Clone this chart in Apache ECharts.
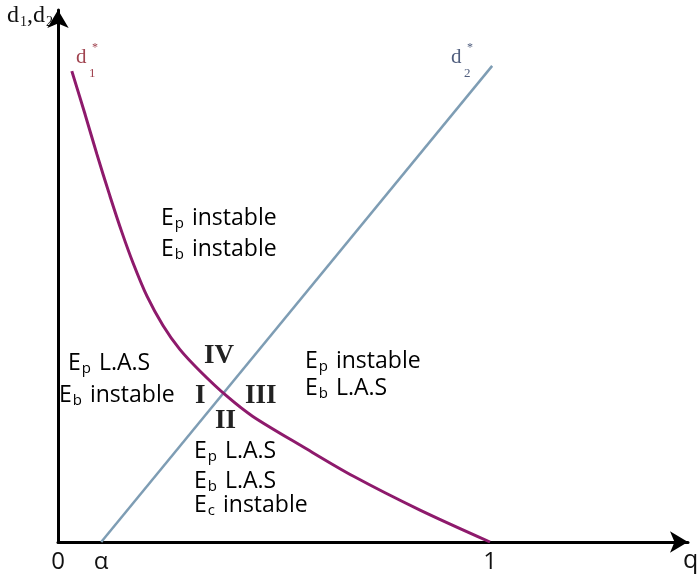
<!DOCTYPE html>
<html>
<head>
<meta charset="utf-8">
<script src="https://cdn.jsdelivr.net/npm/echarts@6/dist/echarts.min.js"></script>
<style>
  html, body { margin: 0; padding: 0; background: #fff; }
  #chart { width: 697px; height: 580px; }
</style>
</head>
<body>
<div id="chart"></div>
<script>
// d1*(q): decreasing curve, reaching 0 at q = 1
const d1Q = [0.032, 0.063, 0.090, 0.120, 0.148, 0.174, 0.206, 0.243, 0.282, 0.329, 0.391, 0.451, 0.567, 0.683, 0.838, 1.0];
const d1Val = [0.885, 0.803, 0.729, 0.651, 0.582, 0.524, 0.462, 0.407, 0.362, 0.321, 0.274, 0.236, 0.179, 0.124, 0.060, 0.0];

// d2*(q): straight line starting at q = alpha
const d2Q = [0.1, 1.005];
const d2Val = [0.0, 0.895];

// x-axis tick positions and their labels
const tickQ = [0, 0.1, 1];
const tickText = ['0', 'α', '1'];

const SANS = '"Open Sans", "Noto Sans", sans-serif';
const SERIF = '"Liberation Serif", "DejaVu Serif", serif';

const richE = {
  e: { fontSize: 23, fontFamily: SANS, color: '#111' },
  s: { fontSize: 15, fontFamily: SANS, color: '#111', padding: [10, 0, 0, 1] },
  w: { fontSize: 23, fontFamily: SANS, color: '#111', padding: [0, 0, 0, 8] }
};

function stateText(x, y, sub, word) {
  return {
    type: 'text', left: x, top: y,
    style: { text: '{e|E}{s|' + sub + '}{w|' + word + '}', rich: richE }
  };
}
function roman(x, y, t) {
  return {
    type: 'text', left: x, top: y,
    style: { text: t, fontFamily: SERIF, fontWeight: 'bold', fontSize: 27, fill: '#222' }
  };
}
function glyph(x, y, t, size, color) {
  return {
    type: 'text', left: x, top: y,
    style: { text: t, fontFamily: SERIF, fontSize: size, fill: color }
  };
}

const RED = '#a0434f';
const SLATE = '#4f5d7d';

const chart = echarts.init(document.getElementById('chart'), null, { renderer: 'canvas' });

chart.setOption({
  backgroundColor: '#fff',
  animation: false,
  grid: { left: 58, right: 9, top: 10, bottom: 38, containLabel: false, outerBoundsMode: 'none' },
  xAxis: {
    type: 'value', min: 0, max: 1.4583,
    name: 'q', nameLocation: 'end', nameGap: 0,
    nameTextStyle: { fontFamily: SANS, fontSize: 25, color: '#111', align: 'left', verticalAlign: 'top', padding: [6, 0, 0, -5] },
    axisLine: { show: true, symbol: ['none', 'arrow'], symbolSize: [16, 18], lineStyle: { color: '#000', width: 3 } },
    axisTick: { show: false },
    splitLine: { show: false },
    axisLabel: {
      customValues: tickQ,
      formatter: v => tickText[tickQ.indexOf(v)] ?? '',
      fontFamily: SANS, fontSize: 24, color: '#111', margin: 8
    }
  },
  yAxis: {
    type: 'value', min: 0, max: 1,
    name: '{d|d}{s|1}{d|,d}{s|2}', nameLocation: 'end', nameGap: 0,
    nameTextStyle: {
      align: 'right', verticalAlign: 'top', padding: [-8, 5, 0, 0],
      rich: {
        d: { fontFamily: SERIF, fontSize: 24, color: '#111' },
        s: { fontFamily: SERIF, fontSize: 14, color: '#111', padding: [13, 0, 0, 1] }
      }
    },
    axisLine: { show: true, symbol: ['none', 'arrow'], symbolSize: [16, 18], lineStyle: { color: '#000', width: 3 } },
    axisTick: { show: false },
    axisLabel: { show: false },
    splitLine: { show: false }
  },
  series: [
    {
      name: 'd2*', type: 'line', symbol: 'none', smooth: false,
      data: d2Q.map((q, i) => [q, d2Val[i]]),
      lineStyle: { color: '#7e9db4', width: 2.5 },
      z: 2
    },
    {
      name: 'd1*', type: 'line', symbol: 'none', smooth: 0.3,
      data: d1Q.map((q, i) => [q, d1Val[i]]),
      lineStyle: { color: '#8e1a6c', width: 3 },
      z: 3
    }
  ],
  graphic: [
    // curve labels d1*, d2*
    glyph(76, 47, 'd', 21, RED),
    glyph(92, 42, '*', 12, RED),
    glyph(89, 67, '1', 13, RED),
    glyph(451, 47, 'd', 21, SLATE),
    glyph(467, 42, '*', 12, SLATE),
    glyph(464, 67, '2', 13, SLATE),
    // region descriptions
    stateText(161, 207, 'p', 'instable'),
    stateText(161, 238, 'b', 'instable'),
    stateText(68, 352, 'p', 'L.A.S'),
    stateText(59, 384, 'b', 'instable'),
    stateText(305, 350, 'p', 'instable'),
    stateText(305, 377, 'b', 'L.A.S'),
    stateText(194, 440, 'p', 'L.A.S'),
    stateText(194, 470, 'b', 'L.A.S'),
    stateText(194, 494, 'c', 'instable'),
    // region numerals
    roman(204, 343, 'IV'),
    roman(195, 383, 'I'),
    roman(215, 408, 'II'),
    roman(245, 383, 'III')
  ]
});
</script>
</body>
</html>
